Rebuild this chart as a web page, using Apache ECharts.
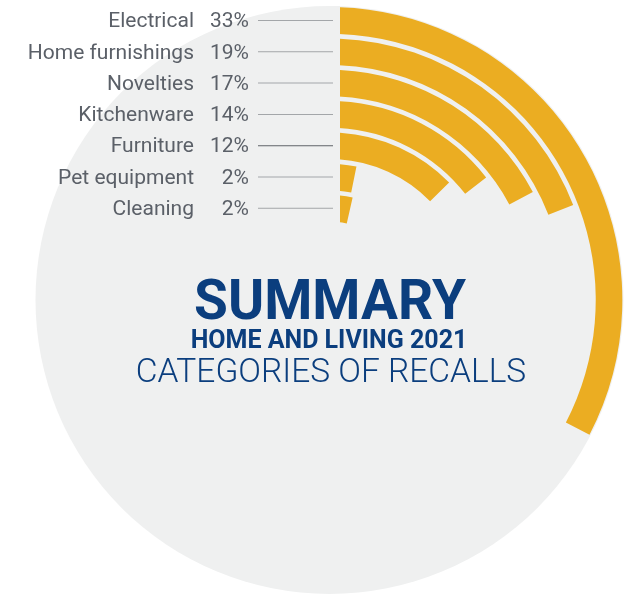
<!DOCTYPE html>
<html>
<head>
<meta charset="utf-8">
<style>
html,body{margin:0;padding:0;background:#fff;}
#chart{width:633px;height:594px;}
</style>
<script src="https://cdn.jsdelivr.net/npm/echarts@6/dist/echarts.min.js"></script>
</head>
<body>
<div id="chart"></div>
<script>
var categories = ['Electrical', 'Home furnishings', 'Novelties', 'Kitchenware', 'Furniture', 'Pet equipment', 'Cleaning'];
var values = [33, 19, 17, 14, 12, 2, 2];
var titleMain = 'SUMMARY';
var titleSub1 = 'HOME AND LIVING 2021';
var titleSub2 = 'CATEGORIES OF RECALLS';

// layout constants
var CX = 329.5, CY = 300, R_IN = 76, R_OUT = 295.2, START_X = 340, ANGLE_MAX = 103, GAP = 0.15;

var chart = echarts.init(document.getElementById('chart'), null, {renderer: 'canvas'});
var FONT = 'Roboto, "Noto Sans", sans-serif';
var navy = '#0b3e7e';
var bg = '#eff0f0';

// each ring starts where the vertical line x = START_X crosses its outer edge
var band = (R_OUT - R_IN) / categories.length;
var startOffsets = categories.map(function (c, i) {
  var r = R_OUT - band * (i + GAP / 2);
  return Math.asin((START_X - CX) / r) * 180 / Math.PI / 360 * ANGLE_MAX;
});

var option = {
  backgroundColor: '#ffffff',
  animation: false,
  graphic: [
    {type: 'circle', z: -10, shape: {cx: CX, cy: CY, r: 294}, style: {fill: bg}, silent: true},
    {type: 'rect', z: 3, shape: {x: 327, y: 6, width: START_X - 327, height: 220}, style: {fill: bg}, silent: true},
    {type: 'text', z: 10, x: 330, y: 305, style: {text: titleMain, font: 'bold 55px ' + FONT, fill: navy, align: 'center', verticalAlign: 'middle'}},
    {type: 'text', z: 10, x: 329, y: 342, style: {text: titleSub1, font: 'bold 25px ' + FONT, fill: navy, align: 'center', verticalAlign: 'middle'}},
    {type: 'text', z: 10, x: 331, y: 374, style: {text: titleSub2, font: '300 33.5px ' + FONT, fill: navy, align: 'center', verticalAlign: 'middle'}}
  ],
  polar: {center: [CX, CY], radius: [R_IN, R_OUT]},
  angleAxis: {
    type: 'value', min: 0, max: ANGLE_MAX, startAngle: 90, clockwise: true,
    axisLine: {show: false}, axisTick: {show: false}, axisLabel: {show: false}, splitLine: {show: false}
  },
  radiusAxis: {
    type: 'category', data: categories, inverse: true, z: 5,
    axisLine: {show: false}, axisTick: {show: false}, splitLine: {show: false},
    axisLabel: {
      interval: 0, margin: CX - 333,
      formatter: function (v, i) {
        return '{n|' + v + '}{p|' + values[i] + '%}' + (i === 4 ? '{ld|}' : '{l|}');
      },
      rich: {
        n: {fontFamily: FONT, fontSize: 21, color: '#5b6068', padding: [3, 0, 0, 0]},
        p: {fontFamily: FONT, fontSize: 21, color: '#5b6068', width: 55, align: 'right', padding: [3, 9, 0, 0]},
        l: {width: 75, height: 1, backgroundColor: '#a3a6a9'},
        ld: {width: 75, height: 1, backgroundColor: '#5f6368'}
      }
    }
  },
  series: [
    {
      type: 'bar', coordinateSystem: 'polar', stack: 'ring', data: startOffsets,
      barCategoryGap: '15%', silent: true,
      itemStyle: {color: 'rgba(0,0,0,0)'}
    },
    {
      type: 'bar', coordinateSystem: 'polar', stack: 'ring', data: values, name: 'Share',
      barCategoryGap: '15%',
      itemStyle: {color: '#ebad22'}
    }
  ]
};
chart.setOption(option);
</script>
</body>
</html>
